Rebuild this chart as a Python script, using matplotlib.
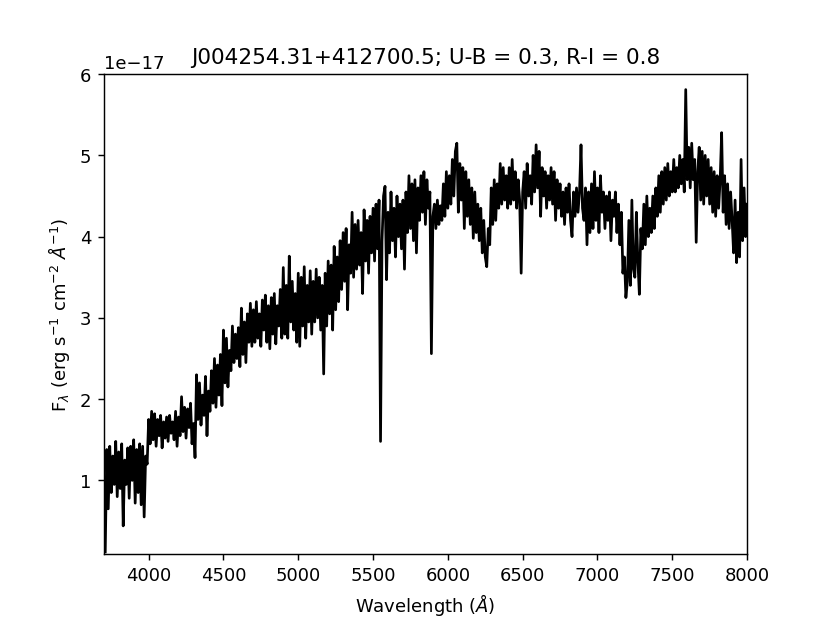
import matplotlib
matplotlib.use('Agg')
import matplotlib.pyplot as plt
import numpy as np

# spectrum sampled every 10 A from 3710 to 8000 (flux in units of 1e-17)
wave_start = 3710
wave_step = 10
flux = [
    0.12, 1.38, 0.65, 1.42, 0.85, 1.30, 0.95, 1.48, 0.80, 1.35,
    0.90, 1.45, 0.44, 1.25, 0.95, 1.40, 0.78, 1.42, 1.00, 1.50,
    0.72, 1.38, 0.85, 1.45, 0.70, 1.42, 0.55, 1.30, 1.20, 1.75,
    1.45, 1.85, 1.50, 1.82, 1.42, 1.75, 1.55, 1.80, 1.40, 1.72,
    1.52, 1.78, 1.48, 1.80, 1.58, 1.72, 1.50, 1.85, 1.42, 1.78,
    1.55, 2.03, 1.60, 1.90, 1.52, 1.88, 1.65, 1.95, 1.45, 1.70,
    1.28, 2.30, 1.75, 2.20, 1.68, 2.05, 1.80, 2.28, 1.55, 2.10,
    1.85, 2.35, 1.95, 2.50, 1.90, 2.42, 2.05, 2.55, 1.92, 2.85,
    2.20, 2.75, 2.15, 2.60, 2.35, 2.90, 2.45, 2.80, 2.50, 2.88,
    2.40, 3.12, 2.55, 2.95, 2.45, 3.05, 2.70, 3.18, 2.65, 3.10,
    2.70, 3.20, 2.75, 3.05, 2.65, 3.22, 2.85, 3.28, 2.70, 3.15,
    2.62, 3.25, 2.80, 3.30, 2.68, 3.15, 2.90, 3.35, 2.75, 3.62,
    2.80, 3.40, 2.75, 3.76, 2.95, 3.45, 2.85, 3.30, 2.70, 3.55,
    2.65, 3.50, 2.90, 3.63, 2.75, 3.40, 2.95, 3.58, 2.80, 3.45,
    2.95, 3.60, 3.00, 3.50, 2.85, 3.40, 2.31, 3.55, 2.90, 3.70,
    3.05, 3.65, 2.85, 3.88, 3.10, 3.75, 3.20, 3.95, 3.35, 4.05,
    3.45, 4.10, 3.10, 3.90, 3.55, 4.30, 3.50, 4.15, 3.60, 4.20,
    3.65, 4.05, 3.30, 4.33, 3.70, 4.20, 3.55, 4.25, 3.80, 4.35,
    3.70, 4.40, 3.85, 4.45, 1.48, 3.95, 4.50, 4.62, 3.47, 4.30,
    3.80, 4.55, 3.95, 4.35, 3.75, 4.50, 4.00, 4.40, 3.85, 4.45,
    3.60, 4.55, 4.05, 4.75, 4.10, 4.65, 3.95, 4.70, 3.80, 4.60,
    4.20, 4.75, 4.30, 4.80, 4.15, 4.70, 4.35, 4.55, 2.56, 4.25,
    4.40, 4.10, 4.45, 4.15, 4.38, 4.20, 4.65, 4.25, 4.80, 4.35,
    4.75, 4.40, 4.95, 4.50, 5.05, 5.15, 4.30, 4.90, 4.45, 4.85,
    4.10, 4.80, 4.25, 4.70, 4.15, 4.60, 3.98, 4.55, 4.05, 4.40,
    3.95, 4.35, 3.80, 4.20, 3.75, 3.63, 4.10, 3.90, 4.60, 4.15,
    4.70, 4.20, 4.65, 4.35, 4.90, 4.40, 4.85, 4.45, 4.75, 4.35,
    4.85, 4.40, 4.95, 4.45, 4.80, 4.35, 4.70, 4.45, 3.55, 4.55,
    4.80, 4.35, 4.90, 4.50, 4.75, 4.40, 5.00, 4.55, 5.13, 4.60,
    5.05, 4.25, 4.85, 4.50, 4.80, 4.35, 4.75, 4.45, 4.85, 4.40,
    4.80, 4.20, 4.70, 4.35, 4.65, 4.25, 4.55, 4.15, 4.60, 4.30,
    4.65, 4.20, 4.00, 4.55, 4.25, 4.60, 4.30, 4.55, 5.13, 4.35,
    4.20, 4.60, 3.90, 4.55, 4.05, 4.65, 4.10, 4.80, 4.20, 4.60,
    4.05, 4.75, 4.30, 4.55, 4.10, 4.50, 4.20, 4.55, 3.95, 4.45,
    4.25, 4.55, 4.05, 4.40, 3.90, 4.30, 3.55, 3.75, 3.25, 3.45,
    4.20, 3.40, 4.45, 3.60, 3.50, 4.30, 3.70, 3.29, 4.10, 3.85,
    4.40, 3.90, 4.50, 4.00, 4.35, 4.05, 4.50, 4.10, 4.60, 4.25,
    4.75, 4.30, 4.80, 4.40, 4.85, 4.45, 4.90, 4.50, 4.80, 4.55,
    4.95, 4.55, 4.85, 4.60, 5.00, 4.65, 4.95, 4.55, 5.81, 4.70,
    5.10, 4.60, 5.15, 4.70, 4.95, 3.93, 4.80, 5.10, 4.45, 5.05,
    4.40, 5.00, 4.50, 4.95, 4.40, 4.85, 4.30, 4.80, 4.25, 4.75,
    4.35, 4.70, 5.28, 4.30, 4.75, 4.15, 4.65, 4.10, 4.55, 4.20,
    3.80, 4.45, 3.68, 4.30, 3.75, 4.95, 3.95, 4.60, 4.00, 4.40,
]
scale = 1e-17

title = 'J004254.31+412700.5; U-B = 0.3, R-I = 0.8'

wave = wave_start + wave_step * np.arange(len(flux))
flux = np.array(flux) * scale

fig, ax = plt.subplots(figsize=(6.4, 4.8), dpi=129.7)
ax.plot(wave, flux, color='black', lw=1.5)
ax.set_xlim(3700, 8000)
ax.set_ylim(0.1e-17, 6e-17)
ax.set_xlabel(r'Wavelength ($\AA$)')
ax.set_ylabel(r'F$_\lambda$ (erg s$^{-1}$ cm$^{-2}$ $\AA^{-1}$)')
ax.set_title(title)

plt.savefig('out.png', dpi=129.7)
